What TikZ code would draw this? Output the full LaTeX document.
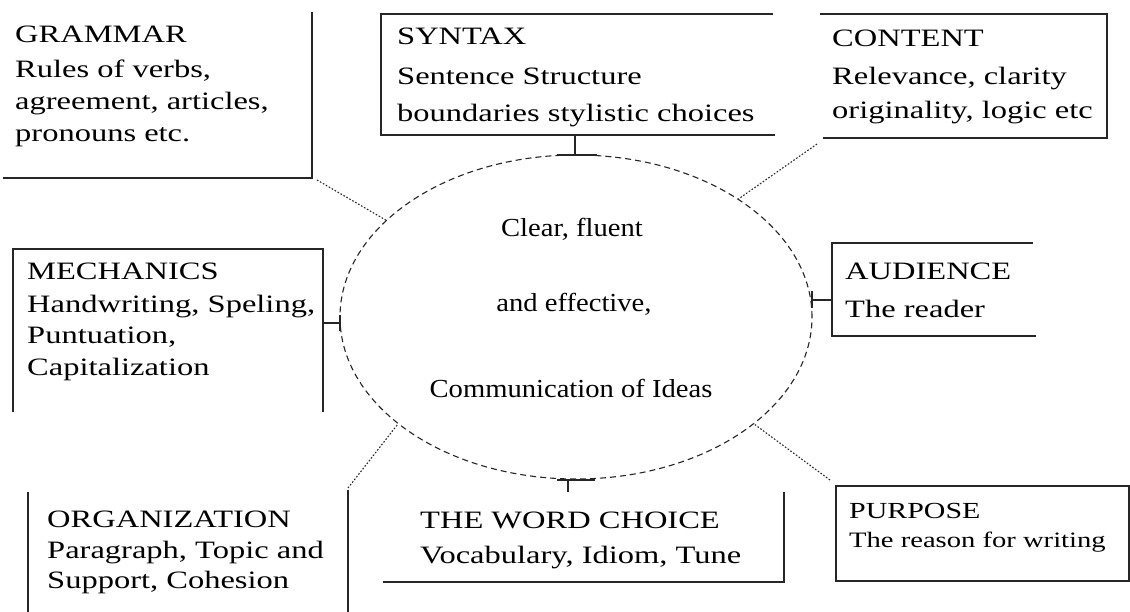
\documentclass[tikz,border=0pt]{standalone}
\usepackage{fontspec}
\usetikzlibrary{shapes.geometric}
\newfontfamily\bxfont{Liberation Serif}[FakeStretch=1.3]
\newfontfamily\elfont{Liberation Serif}[FakeStretch=1.1]
\begin{document}
\begin{tikzpicture}[x=1pt,y=-1pt,
  boxline/.style={line width=1.4pt,black!85},
  link/.style={line width=1.1pt,black!85,dash pattern=on 1.6pt off 1.8pt},
  solidlink/.style={line width=1.2pt,black!85},
  txt/.style={anchor=base west,inner sep=0pt,font=\bxfont\fontsize{25}{30}\selectfont},
  smalltxt/.style={anchor=base west,inner sep=0pt,font=\bxfont\fontsize{22}{26}\selectfont},
  eltxt/.style={anchor=base,inner sep=0pt,font=\elfont\fontsize{26}{30}\selectfont}]
\useasboundingbox (0,0) rectangle (1130,612);
\fill[white] (0,0) rectangle (1130,612);

% central ellipse
\node[draw,ellipse,line width=1.1pt,black!85,dash pattern=on 6pt off 4pt,
      minimum width=472pt,minimum height=324pt,inner sep=0pt] (E) at (576,317) {};
\node[eltxt] (e1) at (572,237) {Clear, fluent};
\node[eltxt] (e2) at (574,312) {and effective,};
\node[eltxt] (e3) at (571,397) {Communication of Ideas};

% GRAMMAR
\node[txt] (g1) at (15,43) {GRAMMAR};
\node[txt] (g2) at (15,78) {Rules of verbs,};
\node[txt] (g3) at (15,110) {agreement, articles,};
\node[txt] (g4) at (15,142) {pronouns etc.};
\draw[boxline] (3,178) -- (312,178) -- (312,12);
\coordinate (gc) at (317,180);
\draw[link] (gc) -- (E.153);

% SYNTAX
\node[txt] (s1) at (397,45) {SYNTAX};
\node[txt] (s2) at (397,85) {Sentence Structure};
\node[txt] (s3) at (397,122) {boundaries stylistic choices};
\draw[boxline] (773,14) -- (381,14) -- (381,135) -- (775,135);
\coordinate (sc) at (575,135);
\coordinate (st) at (575,155);
\draw[solidlink] (sc) -- (st);
\draw[solidlink] ([xshift=-18pt]st) -- ([xshift=22pt]st);

% CONTENT
\node[txt] (c1) at (832,47) {CONTENT};
\node[txt] (c2) at (832,85) {Relevance, clarity};
\node[txt] (c3) at (832,119) {originality, logic etc};
\draw[boxline] (820,14) -- (1107,14) -- (1107,138) -- (823,138);
\coordinate (cc) at (817,144);
\draw[link] (cc) -- (E.36);

% MECHANICS
\node[txt] (m1) at (27,280) {MECHANICS};
\node[txt] (m2) at (27,313) {Handwriting, Speling,};
\node[txt] (m3) at (27,344) {Puntuation,};
\node[txt] (m4) at (27,375) {Capitalization};
\draw[boxline] (13,412) -- (13,249) -- (323,249) -- (323,412);
\coordinate (mc) at (323,323);
\coordinate (mt) at (340,323);
\draw[solidlink] (mc) -- (mt);
\draw[solidlink] ([yshift=-8pt]mt) -- ([yshift=8pt]mt);

% AUDIENCE
\node[txt] (a1) at (845,280) {AUDIENCE};
\node[txt] (a2) at (845,318) {The reader};
\draw[boxline] (1033,243) -- (832,243) -- (832,336) -- (1036,336);
\coordinate (ac) at (832,300);
\coordinate (at) at (812,300);
\draw[solidlink] (ac) -- (at);
\draw[solidlink] ([yshift=-8pt]at) -- ([yshift=9pt]at);

% ORGANIZATION
\node[txt] (o1) at (47,527) {ORGANIZATION};
\node[txt] (o2) at (47,558) {Paragraph, Topic and};
\node[txt] (o3) at (47,588) {Support, Cohesion};
\draw[boxline] (28,492) -- (28,612);
\draw[boxline] (348,490) -- (348,612);
\coordinate (oc) at (348,488);
\draw[link] (oc) -- (E.211);

% THE WORD CHOICE
\node[txt] (w1) at (420,528) {THE WORD CHOICE};
\node[txt] (w2) at (420,563) {Vocabulary, Idiom, Tune};
\draw[boxline] (383,582) -- (784,582) -- (784,492);
\coordinate (wc) at (568,492);
\coordinate (wt) at (568,480);
\draw[solidlink] (wc) -- (wt);
\draw[solidlink] ([xshift=-11pt]wt) -- ([xshift=27pt]wt);

% PURPOSE
\node[txt,font=\bxfont\fontsize{23}{28}\selectfont] (p1) at (849,518) {PURPOSE};
\node[smalltxt] (p2) at (849,547) {The reason for writing};
\draw[boxline] (836,486) rectangle (1129,581);
\coordinate (pc) at (830,480);
\draw[link] (pc) -- (E.-31);
\end{tikzpicture}
\end{document}
